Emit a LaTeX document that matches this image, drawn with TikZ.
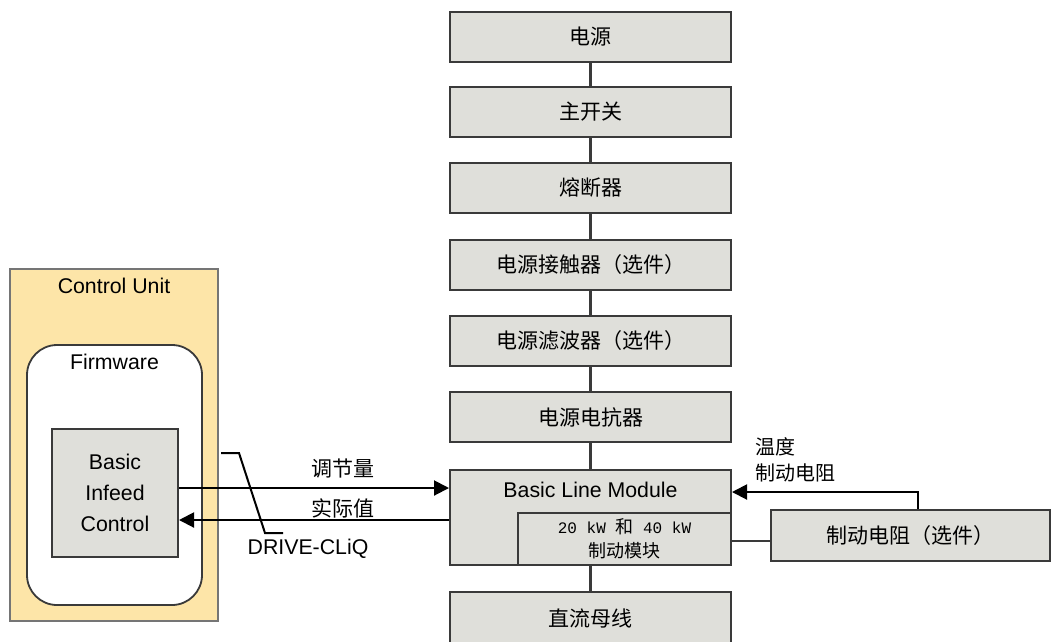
\documentclass[tikz,border=0pt]{standalone}
\usepackage{fontspec}
\setmainfont{Liberation Sans}
\newfontfamily\cjk{Noto Sans CJK SC}
\newfontfamily\monofont{Liberation Mono}
\usetikzlibrary{arrows.meta}
\definecolor{boxgray}{HTML}{DFDFDA}
\definecolor{cuyellow}{HTML}{FDE5A8}
\definecolor{edgegray}{HTML}{3A3A3A}

\begin{document}
\begin{tikzpicture}[x=1pt, y=-1pt,
    sig/.style={line width=2pt, -{Triangle[length=15pt, width=15pt]}},
    wire/.style={line width=2.4pt, edgegray}]
    \clip (0,0) rectangle (1051,641);

    % supply chain
    \begin{scope}[every node/.style={rectangle, draw=edgegray, line width=2pt, fill=boxgray,
            minimum width=281pt, minimum height=50pt, inner sep=0pt,
            font=\cjk\fontsize{21}{25}\selectfont}]
        \node (src) at (590.5,37) {电源};
        \node (msw) at (590.5,112) {主开关};
        \node (fus) at (590.5,188) {熔断器};
        \node (con) at (590.5,265) {电源接触器（选件）};
        \node (flt) at (590.5,341) {电源滤波器（选件）};
        \node (rea) at (590.5,417) {电源电抗器};
        \node[minimum height=95pt] (blm) at (590.5,517.5) {};
        \node[minimum width=213pt, minimum height=52pt, align=center,
            font=\cjk\fontsize{18}{24}\selectfont] (brk) at (624.5,539)
            {{\monofont\fontsize{16}{24}\selectfont 20 kW }和{\monofont\fontsize{16}{24}\selectfont\ 40 kW}\\制动模块};
        \node[minimum height=52pt] (dcb) at (590.5,618) {直流母线};
        \node[minimum width=279pt, minimum height=51pt] (res) at (910.5,535.5) {制动电阻（选件）};
    \end{scope}
    \node[font=\fontsize{21.3}{25}\selectfont] at (590.5,490) {Basic Line Module};

    \begin{scope}[every edge/.style={draw, wire}]
        \path [-] (src) edge (msw)
                  (msw) edge (fus)
                  (fus) edge (con)
                  (con) edge (flt)
                  (flt) edge (rea)
                  (rea) edge (blm)
                  (brk.south -| dcb.north) edge (dcb)
                  ([yshift=-2pt]brk.east) edge ([yshift=-2pt]brk.east -| res.west);
    \end{scope}

    % control unit
    \node[rectangle, draw=edgegray!70, line width=1.8pt, fill=cuyellow,
        minimum width=208pt, minimum height=352pt] (cu) at (114,445) {};
    \node[font=\fontsize{21.3}{25}\selectfont] at (114,286) {Control Unit};
    \node[rectangle, rounded corners=30pt, draw=edgegray, line width=1.8pt, fill=white,
        minimum width=175pt, minimum height=260pt] (fw) at (114.5,475) {};
    \node[font=\fontsize{21.3}{25}\selectfont] at (114.5,362) {Firmware};
    \node[rectangle, draw=edgegray, line width=2pt, fill=boxgray, align=center,
        minimum width=126pt, minimum height=128pt,
        font=\fontsize{21.3}{31}\selectfont] (bic) at (115,493) {Basic\\Infeed\\Control};

    % signals
    \draw[sig] ([yshift=5pt]bic.east) -- ([yshift=5pt]bic.east -| blm.west);
    \draw[sig] ([yshift=-27pt]bic.east -| blm.west) -- ([yshift=-27pt]bic.east);
    \node[font=\cjk\fontsize{21}{25}\selectfont] (set) at (343,468) {调节量};
    \node[font=\cjk\fontsize{21}{25}\selectfont] (act) at (343,508) {实际值};

    % DRIVE-CLiQ marker
    \coordinate (dq1) at (221,453);
    \coordinate (dq2) at (239,453);
    \coordinate (dq3) at (265,533);
    \coordinate (dq4) at (283,533);
    \draw[line width=2pt] (dq1) -- (dq2) -- (dq3) -- (dq4);
    \node[font=\fontsize{21.3}{25}\selectfont] (dql) at (308,549) {DRIVE-CLiQ};

    % temperature feedback
    \coordinate (tmp) at (918,492);
    \draw[sig] (res.north -| tmp) -- (tmp) -- (tmp -| blm.east);
    \node[anchor=west, align=left, font=\cjk\fontsize{20}{26}\selectfont] (tl) at (752,460)
        {温度\\制动电阻};
\end{tikzpicture}
\end{document}
